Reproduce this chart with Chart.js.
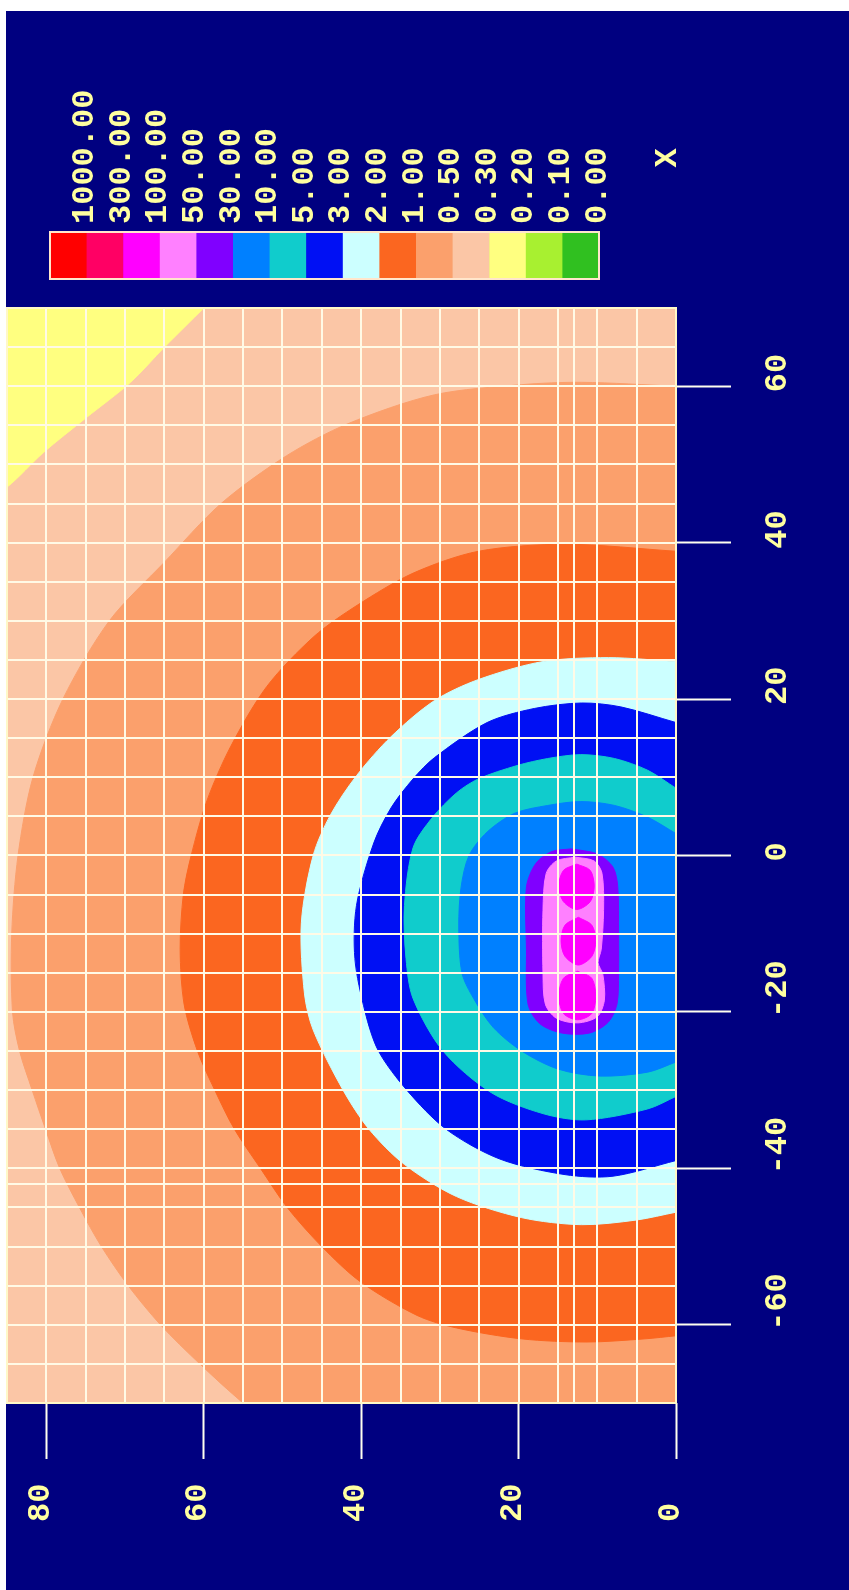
<!DOCTYPE html>
<html>
<head>
<meta charset="utf-8">
<title>Contour plot</title>
<script src="https://cdn.jsdelivr.net/npm/chart.js@4.4.1/dist/chart.umd.min.js"></script>
<style>
    html, body { margin: 0; padding: 0; background: #ffffff; overflow: hidden; }
    /* the plot is drawn landscape and turned a quarter turn to the left */
    #wrap {
        position: absolute; left: 0; top: 0;
        width: 1590px; height: 849px;
        transform-origin: 0 0;
        transform: translate(0, 1590px) rotate(-90deg);
    }
</style>
</head>
<body>
<div id="wrap"><canvas id="chart" width="1590" height="849"></canvas></div>
<script>
// key: lower bound of each colour band, top to bottom
const levelLabels = ['1000.00', '300.00', '100.00', '50.00', '30.00', '10.00', '5.00', '3.00',
    '2.00', '1.00', '0.50', '0.30', '0.20', '0.10', '0.00'];
const levelColors = ['#ff0000', '#ff0064', '#ff00ff', '#ff80ff', '#8000ff', '#0080ff', '#10cccc', '#0010f4',
    '#ccffff', '#fb6620', '#fba06c', '#fbc6a6', '#ffff80', '#a8f030', '#30c020'];

const xTicks = [-60, -40, -20, 0, 20, 40, 60];
const yTicks = [0, 20, 40, 60, 80];
const gridX = [-65, -60, -55, -50, -45, -42, -40, -35, -30, -25, -20, -15, -10, -5,
    0, 5, 10, 15, 20, 25, 30, 35, 40, 45, 50, 55, 60, 65];
const gridY = [5, 10, 13, 15, 20, 25, 30, 35, 40, 45, 50, 55, 60, 65, 70, 75, 80];

// contour outlines [x, y]
const c020 = [[70, 60], [65, 65], [60.5, 69.3], [56, 74.9], [51.5, 80.4], [47.1, 85], [44, 90], [74, 90], [74, 56]];
const c050 = [[60, 0], [60.5, 12], [60.2, 19.6], [58.9, 30.7], [55.2, 41.7], [51.1, 49.5], [45, 57.8], [37.5, 65],
    [30, 72], [20, 77.9], [10, 81.7], [0, 83.6], [-10, 84.4], [-20, 84.3], [-25, 83.4], [-30, 81.8], [-35, 80.1],
    [-40, 78.3], [-45, 75.8], [-50, 73], [-55, 69.6], [-60, 65.5], [-65, 60.5], [-70, 55], [-78, 45], [-78, 0]];
const c1 = [[38.9, 0], [39.8, 14.1], [38.9, 25.1], [36.1, 33.4], [32, 40.5], [28, 46], [21.6, 52], [13.9, 56.6],
    [7, 59.6], [0, 61.6], [-5, 62.6], [-12, 63], [-19, 62.5], [-25, 60.8], [-30, 58.6], [-35, 56.1],
    [-40, 52.8], [-45, 49.4], [-50, 45], [-54.5, 40.1], [-58.8, 32.9], [-60.4, 27.9], [-61.8, 19.6],
    [-62.2, 11.3], [-61.8, 4], [-61.4, 0]];
const c2 = [[24.8, 0], [25.3, 8.6], [24.8, 16.9], [22.5, 25.1], [19.8, 30.7], [15.2, 36.2], [10.2, 40.6],
    [5.2, 43.9], [0, 46.1], [-8.6, 47.6], [-17.7, 47.2], [-22.3, 46.1], [-30, 42.3], [-35, 39], [-39.5, 34.5],
    [-43.6, 27.9], [-46.3, 19.6], [-47.2, 12], [-46.6, 5], [-45.6, 0]];
const c3 = [[17, 0], [19, 7], [19.5, 12], [18.8, 18], [17, 24], [12.5, 30.7], [9.8, 33.4], [6.1, 36.2],
    [1.6, 38.4], [-6.4, 40.6], [-13.2, 40.8], [-20, 39.5], [-25, 37.8], [-30, 34.2], [-35, 29.2],
    [-38.8, 22.4], [-40.8, 14.1], [-41, 8], [-39, 0]];
const c5 = [[8.6, 0], [10.9, 3.6], [12.4, 7.8], [12.9, 12.1], [12.4, 16.3], [11.5, 20.2], [9.8, 25.1], [8, 27.9],
    [4.8, 31], [1, 33.4], [-6.4, 34.5], [-13.2, 34.3], [-18.3, 33.4], [-25, 29.6], [-30.3, 23.5], [-33, 16.9],
    [-33.8, 11.5], [-32.4, 3.6], [-30.8, 0]];
const c10 = [[2.8, 0], [4.9, 3.6], [6.4, 7.8], [6.9, 12.1], [6.4, 16.3], [5.4, 20.5], [3, 24], [0, 26.3],
    [-4, 27.3], [-9, 27.6], [-15, 27.2], [-18.3, 25.7], [-22, 23.2], [-25, 19.6], [-27.3, 15], [-28.2, 9.7],
    [-27.7, 3.6], [-26.4, 0]];
const c30 = [[0.85, 13.3], [0.2, 10], [-1.5, 8], [-4, 7.4], [-10, 7.3], [-15, 7.3], [-19, 7.5], [-21.3, 8.6],
    [-22.7, 11], [-22.7, 14.5], [-21.5, 17.3], [-19, 18.8], [-12, 19], [-4, 19], [-1, 17.8], [0.5, 15.8],
    [0.85, 13.3]];
const c50 = [[-0.2, 12.8], [-0.7, 10.4], [-2.3, 9.4], [-7, 9.2], [-12, 9.5], [-13.7, 9.9], [-15.2, 9.3],
    [-18.5, 9.1], [-20.6, 10], [-21.4, 12.5], [-20.8, 15.2], [-19, 16.6], [-15, 16.9], [-7, 16.9],
    [-2.3, 16.5], [-0.7, 15.2], [-0.2, 12.8]];
const c100a = [[-1.1, 12.6], [-1.9, 14.3], [-3.9, 14.9], [-5.9, 14.3], [-6.9, 12.6], [-5.9, 10.9], [-3.9, 10.4],
    [-1.9, 10.9], [-1.1, 12.6]];
const c100b = [[-7.9, 12.4], [-8.9, 14.1], [-10.9, 14.6], [-12.9, 14.1], [-14, 12.4], [-12.9, 10.7], [-10.9, 10.2],
    [-8.9, 10.7], [-7.9, 12.4]];
const c100c = [[-14.8, 12.5], [-15.7, 14.3], [-18, 14.9], [-20.2, 14.3], [-21, 12.5], [-20.2, 10.7], [-18, 10.2],
    [-15.7, 10.7], [-14.8, 12.5]];

const textColor = '#ffffa0';
const labelFont = 'bold 32px "Liberation Mono", monospace';

document.addEventListener('DOMContentLoaded', () => {
    drawChart();
});

function drawChart() {
    const bands = [
        { pts: c020, color: levelColors[12] },
        { pts: c050, color: levelColors[10] },
        { pts: c1, color: levelColors[9] },
        { pts: c2, color: levelColors[8] },
        { pts: c3, color: levelColors[7] },
        { pts: c5, color: levelColors[6] },
        { pts: c10, color: levelColors[5] },
        { pts: c30, color: levelColors[4] },
        { pts: c50, color: levelColors[3] },
        { pts: c100a, color: levelColors[2] },
        { pts: c100b, color: levelColors[2] },
        { pts: c100c, color: levelColors[2] }
    ];

    const datasets = bands.map((b, i) => ({
        data: b.pts.map(p => ({ x: p[0], y: p[1] })),
        showLine: true,
        fill: 'shape',
        backgroundColor: b.color,
        borderColor: b.color,
        borderWidth: 1,
        pointRadius: 0,
        tension: 0.3,
        clip: 0,
        order: bands.length - i
    }));

    const backdrop = {
        id: 'backdrop',
        beforeDraw(chart) {
            const { ctx, chartArea: a } = chart;
            ctx.save();
            ctx.fillStyle = '#ffffff';
            ctx.fillRect(0, 0, chart.width, chart.height);
            ctx.fillStyle = '#000080';
            ctx.fillRect(0, 6, 1579, chart.height - 6);
            // base band 0.30 - 0.50
            ctx.fillStyle = levelColors[11];
            ctx.fillRect(a.left, a.top, a.right - a.left, a.bottom - a.top);
            ctx.restore();
        }
    };

    const labels = {
        id: 'labels',
        afterDraw(chart) {
            const { ctx, chartArea: a, scales } = chart;
            ctx.save();
            ctx.strokeStyle = '#fff8c8';
            ctx.lineWidth = 2;
            ctx.strokeRect(a.left, a.top, a.right - a.left, a.bottom - a.top);

            ctx.font = labelFont;
            ctx.fillStyle = textColor;
            ctx.textBaseline = 'alphabetic';
            ctx.textAlign = 'left';
            scales.x.ticks.forEach(t => {
                ctx.fillText(String(t.value), scales.x.getPixelForValue(t.value) - 6, a.bottom + 110);
            });
            scales.y.ticks.forEach(t => {
                ctx.fillText(String(t.value), 68, scales.y.getPixelForValue(t.value) + 2.5);
            });

            // colour key
            const top = 50, h = 36.6, kx = 1311, kw = 47;
            levelColors.forEach((c, i) => {
                ctx.fillStyle = c;
                ctx.fillRect(kx, top + i * h, kw, h + 0.6);
            });
            ctx.strokeStyle = '#ffe6cc';
            ctx.lineWidth = 2;
            ctx.strokeRect(kx, top, kw, h * levelColors.length);
            ctx.fillStyle = textColor;
            levelLabels.forEach((s, i) => {
                ctx.fillText(s, 1366, top + (i + 1) * h - 4 + 10.5);
            });
            ctx.textAlign = 'center';
            ctx.fillText('X', 1432, 675.5);
            ctx.restore();
        }
    };

    const ctx = document.getElementById('chart').getContext('2d');
    new Chart(ctx, {
        type: 'scatter',
        data: { datasets: datasets },
        options: {
            responsive: false,
            animation: false,
            devicePixelRatio: 1,
            layout: { padding: { left: 70, right: 308, top: 7, bottom: 0 } },
            plugins: {
                legend: { display: false },
                tooltip: { enabled: false }
            },
            scales: {
                x: {
                    type: 'linear', position: 'bottom', min: -70, max: 70,
                    afterBuildTicks: s => { s.ticks = xTicks.map(v => ({ value: v })); },
                    afterFit: s => { s.height = 173; },
                    ticks: { display: false },
                    grid: { drawOnChartArea: false, drawTicks: true, tickLength: 55, tickColor: '#fffff0', tickWidth: 2 },
                    border: { display: false }
                },
                y: {
                    type: 'linear', position: 'left', min: 0, max: 85,
                    afterBuildTicks: s => { s.ticks = yTicks.map(v => ({ value: v })); },
                    afterFit: s => { s.width = 117; },
                    ticks: { display: false },
                    grid: { drawOnChartArea: false, drawTicks: true, tickLength: 56, tickColor: '#fffff0', tickWidth: 2 },
                    border: { display: false }
                },
                gx: {
                    type: 'linear', position: 'bottom', min: -70, max: 70, z: 1,
                    afterBuildTicks: s => { s.ticks = gridX.map(v => ({ value: v })); },
                    afterFit: s => { s.height = 0; },
                    ticks: { display: false },
                    grid: { color: '#fffae6', lineWidth: 2, drawTicks: false, z: 1 },
                    border: { display: false }
                },
                gy: {
                    type: 'linear', position: 'left', min: 0, max: 85, z: 1,
                    afterBuildTicks: s => { s.ticks = gridY.map(v => ({ value: v })); },
                    afterFit: s => { s.width = 0; },
                    ticks: { display: false },
                    grid: { color: '#fffae6', lineWidth: 2, drawTicks: false, z: 1 },
                    border: { display: false }
                }
            }
        },
        plugins: [backdrop, labels]
    });
}
</script>
</body>
</html>
